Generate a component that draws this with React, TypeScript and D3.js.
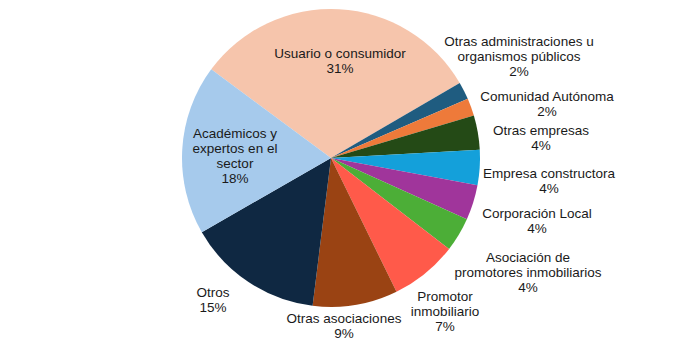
import React from "react";
import * as d3 from "d3";

// ---- data ----
const categories = [
  "Usuario o consumidor",
  "Otras administraciones u organismos públicos",
  "Comunidad Autónoma",
  "Otras empresas",
  "Empresa constructora",
  "Corporación Local",
  "Asociación de promotores inmobiliarios",
  "Promotor inmobiliario",
  "Otras asociaciones",
  "Otros",
  "Académicos y expertos en el sector",
];
const values = [31.4, 1.9, 1.9, 3.7, 3.8, 3.8, 3.7, 7.3, 9.2, 14.7, 18.4];
const percentLabels = ["31%", "2%", "2%", "4%", "4%", "4%", "4%", "7%", "9%", "15%", "18%"];
const labelLines = [
  ["Usuario o consumidor"],
  ["Otras administraciones u", "organismos públicos"],
  ["Comunidad Autónoma"],
  ["Otras empresas"],
  ["Empresa constructora"],
  ["Corporación Local"],
  ["Asociación de", "promotores inmobiliarios"],
  ["Promotor", "inmobiliario"],
  ["Otras asociaciones"],
  ["Otros"],
  ["Académicos y", "expertos en el", "sector"],
];

// ---- style / layout ----
const colors = [
  "#F6C5AC", "#1F5C80", "#EE7A3A", "#244A16", "#14A0DA", "#A0359B",
  "#4CAE37", "#FF5A4A", "#9A4313", "#0F2842", "#A6CAEC",
];
// label anchor: center x, first baseline y
const labelAnchors: [number, number][] = [
  [340, 58], [519, 46], [547, 101], [541, 135], [549, 178], [537, 218],
  [528, 262], [445, 301], [344, 323], [213, 297], [235, 138],
];

const W = 675, H = 361;
const cx = 331, cy = 158, R = 149;
const startDeg = -53.5;

export default function App() {
  const pie = d3
    .pie<number>()
    .sort(null)
    .value((d) => d)
    .startAngle((startDeg * Math.PI) / 180)
    .endAngle((startDeg * Math.PI) / 180 + 2 * Math.PI);
  const arcs = pie(values);
  const arc = d3.arc<d3.PieArcDatum<number>>().innerRadius(0).outerRadius(R);
  const lh = 15;
  return (
    <svg
      width={W}
      height={H}
      style={{ position: "absolute", left: 0, top: 0, background: "#fff" }}
      fontFamily="'Liberation Sans', Arial, sans-serif"
      fontSize={13.5}
    >
      <rect width={W} height={H} fill="#fff" />
      <g transform={`translate(${cx},${cy})`}>
        {arcs.map((a, i) => (
          <path key={categories[i]} d={arc(a) || ""} fill={colors[i]} />
        ))}
      </g>
      {categories.map((c, i) => {
        const [x, y] = labelAnchors[i];
        const lines = [...labelLines[i], percentLabels[i]];
        return (
          <text key={c} x={x} y={y} textAnchor="middle" fill="#1a1a1a">
            {lines.map((l, j) => (
              <tspan key={j} x={x} y={y + j * lh}>
                {l}
              </tspan>
            ))}
          </text>
        );
      })}
    </svg>
  );
}
